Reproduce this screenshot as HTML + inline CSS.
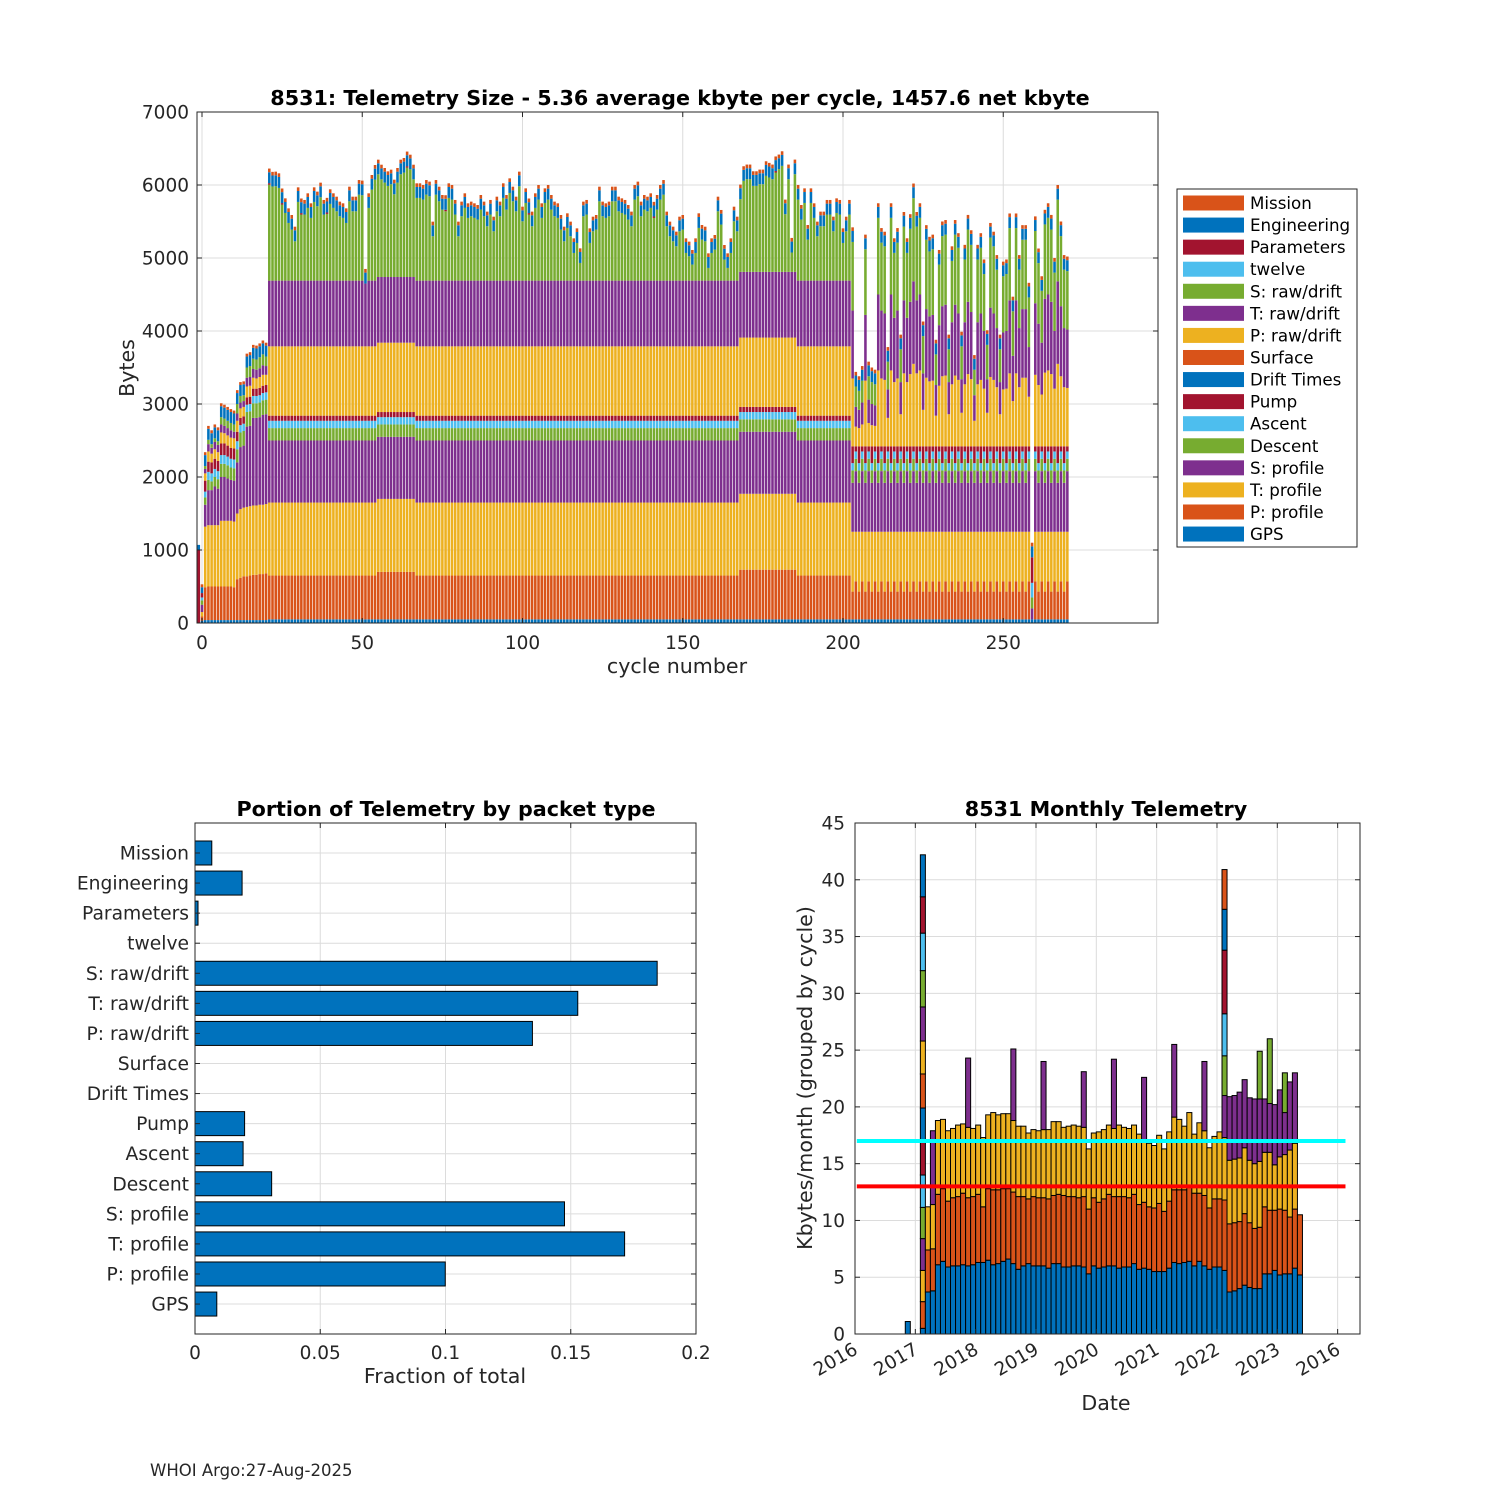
<!DOCTYPE html>
<html><head><meta charset="utf-8"><title>8531 Telemetry</title>
<style>
html,body{margin:0;padding:0;background:#fff;}
svg{display:block;font-family:"DejaVu Sans","Liberation Sans",sans-serif;}
</style></head>
<body>
<svg id="fig" xmlns="http://www.w3.org/2000/svg" width="1500" height="1500" viewBox="0 0 1500 1500">
<rect x="0" y="0" width="1500" height="1500" fill="#ffffff"/>
<g id="top-chart"></g>
<g id="bl-chart"></g>
<g id="br-chart"></g>
<text x="150" y="1476" font-size="16.5" fill="#262626">WHOI Argo:27-Aug-2025</text>
</svg>
<script>
// ===== Top chart data (cycles -1 .. 270) =====
const firstCycle = -1;
const gps = [0,30,40,40,40,40,40,40,40,40,40,40,40,40,40,40,40,40,40,40,40,40,
50,50,50,50,50,50,50,50,50,50,50,50,50,50,50,50,50,50,50,50,50,50,50,50,50,
50,50,50,50,50,50,50,50,50,50,50,50,50,50,50,50,50,50,50,50,50,50,50,50,50,
50,50,50,50,50,50,50,50,50,50,50,50,50,50,50,50,50,50,50,50,50,50,50,50,50,
50,50,50,50,50,50,50,50,50,50,50,50,50,50,50,50,50,50,50,50,50,50,50,50,50,
50,50,50,50,50,50,50,50,50,50,50,50,50,50,50,50,50,50,50,50,50,50,50,50,50,
50,50,50,50,50,50,50,50,50,50,50,50,50,50,50,50,50,50,50,50,50,50,50,50,50,
50,50,50,50,50,50,50,50,50,50,50,50,50,50,50,50,50,50,50,50,50,50,50,50,50,
50,50,50,50,50,50,50,50,50,50,50,50,50,50,50,50,50,50,50,50,50,50,50,50,50,
50,50,50,50,50,50,50,50,50,50,50,50,50,50,50,50,50,50,50,50,50,50,50,50,50,
50,50,50,50,50,50,50,50,50,50,50,50,50,50,50,50,50,50,50,50,50,50,50,50,50];
const pProf = [0,60,450,460,460,460,460,460,460,460,460,450,560,580,600,600,610,620,620,630,630,640,
600,600,600,600,600,600,600,600,600,600,600,600,600,600,600,600,600,600,600,600,600,600,600,600,600,600,600,600,600,600,600,600,600,600,
650,650,650,650,650,650,650,650,650,650,650,650,
600,600,600,600,600,600,600,600,600,600,600,600,600,600,600,600,600,600,600,600,600,600,600,600,600,
600,600,600,600,600,600,600,600,600,600,600,600,600,600,600,600,600,600,600,600,600,600,600,600,600,
600,600,600,600,600,600,600,600,600,600,600,600,600,600,600,600,600,600,600,600,600,600,600,600,600,
600,600,600,600,600,600,600,600,600,600,600,600,600,600,600,600,600,600,600,600,600,600,600,600,600,600,
680,680,680,680,680,680,680,680,680,680,680,680,680,680,680,680,680,680,
600,600,600,600,600,600,600,600,600,600,600,600,600,600,600,600,600,
380,520,380,520,380,520,380,520,380,520,380,520,380,520,380,520,380,520,380,520,
380,520,380,520,380,520,380,520,380,520,380,520,380,520,380,520,380,520,380,520,
380,520,380,520,380,520,380,520,380,520,380,520,380,520,380,520,0,520,380,520,
380,520,380,520,380,520,380,520];
const tProf = [0,60,830,840,840,840,840,900,900,900,900,900,900,940,940,950,950,950,950,950,950,950,
1000,1000,1000,1000,1000,1000,1000,1000,1000,1000,1000,1000,1000,1000,1000,1000,1000,1000,1000,1000,1000,1000,1000,1000,1000,
1000,1000,1000,1000,1000,1000,1000,1000,1000,1000,1000,1000,1000,1000,1000,1000,1000,1000,1000,1000,1000,1000,1000,1000,1000,
1000,1000,1000,1000,1000,1000,1000,1000,1000,1000,1000,1000,1000,1000,1000,1000,1000,1000,1000,1000,1000,1000,1000,1000,1000,
1000,1000,1000,1000,1000,1000,1000,1000,1000,1000,1000,1000,1000,1000,1000,1000,1000,1000,1000,1000,1000,1000,1000,1000,1000,
1000,1000,1000,1000,1000,1000,1000,1000,1000,1000,1000,1000,1000,1000,1000,1000,1000,1000,1000,1000,1000,1000,1000,1000,1000,
1000,1000,1000,1000,1000,1000,1000,1000,1000,1000,1000,1000,1000,1000,1000,1000,1000,1000,1000,1000,1000,1000,
1040,1040,1040,1040,1040,1040,1040,1040,1040,1040,1040,1040,1040,1040,1040,1040,1040,1040,
1000,1000,1000,1000,1000,1000,1000,1000,1000,1000,1000,1000,1000,1000,1000,1000,1000,
820,680,820,680,820,680,820,680,820,680,820,680,820,680,820,680,820,680,820,680,
820,680,820,680,820,680,820,680,820,680,820,680,820,680,820,680,820,680,820,680,
820,680,820,680,820,680,820,680,820,680,820,680,820,680,820,680,0,680,820,680,
820,680,820,680,820,680,820,680];
const sProf = [0,100,300,480,480,530,500,600,600,580,560,560,700,850,850,1100,1100,1200,1200,1200,1230,1230,
850,850,850,850,850,850,850,850,850,850,850,850,850,850,850,850,850,850,850,850,850,850,850,850,850,
850,850,850,850,850,850,850,850,850,850,850,850,850,850,850,850,850,850,850,850,850,850,850,850,850,
850,850,850,850,850,850,850,850,850,850,850,850,850,850,850,850,850,850,850,850,850,850,850,850,850,
850,850,850,850,850,850,850,850,850,850,850,850,850,850,850,850,850,850,850,850,850,850,850,850,850,
850,850,850,850,850,850,850,850,850,850,850,850,850,850,850,850,850,850,850,850,850,850,850,850,850,
850,850,850,850,850,850,850,850,850,850,850,850,850,850,850,850,850,850,850,850,850,850,850,850,850,
850,850,850,850,850,850,850,850,850,850,850,850,850,850,850,850,850,850,850,850,850,850,850,850,850,
850,850,850,850,850,850,850,
670,830,670,830,670,830,670,830,670,830,670,830,670,830,670,830,670,830,670,830,
670,830,670,830,670,830,670,830,670,830,670,830,670,830,670,830,670,830,670,830,
670,830,670,830,670,830,670,830,670,830,670,830,670,830,670,830,150,830,670,830,
670,830,670,830,670,830,670,830];
const descent = [0,60,100,140,120,130,130,180,180,180,170,170,180,200,200,200,200,200,200,200,200,200,
170,170,170,170,170,170,170,170,170,170,170,170,170,170,170,170,170,170,170,170,170,170,170,170,170,
170,170,170,170,170,170,170,170,170,170,170,170,170,170,170,170,170,170,170,170,170,170,170,170,170,
170,170,170,170,170,170,170,170,170,170,170,170,170,170,170,170,170,170,170,170,170,170,170,170,170,
170,170,170,170,170,170,170,170,170,170,170,170,170,170,170,170,170,170,170,170,170,170,170,170,170,
170,170,170,170,170,170,170,170,170,170,170,170,170,170,170,170,170,170,170,170,170,170,170,170,170,
170,170,170,170,170,170,170,170,170,170,170,170,170,170,170,170,170,170,170,170,170,170,170,170,170,
170,170,170,170,170,170,170,170,170,170,170,170,170,170,170,170,170,170,170,170,170,170,170,170,170,
170,170,170,170,170,170,170,
170,170,170,170,170,170,170,170,170,170,170,170,170,170,170,170,170,170,170,170,
170,170,170,170,170,170,170,170,170,170,170,170,170,170,170,170,170,170,170,170,
170,170,170,170,170,170,170,170,170,170,170,170,170,170,170,170,150,170,170,170,
170,170,170,170,170,170,170,170];
const ascent = [0,40,80,110,110,110,110,120,120,120,120,120,110,100,100,100,100,100,100,100,100,100,
100,100,100,100,100,100,100,100,100,100,100,100,100,100,100,100,100,100,100,100,100,100,100,100,100,
100,100,100,100,100,100,100,100,100,100,100,100,100,100,100,100,100,100,100,100,100,100,100,100,100,
100,100,100,100,100,100,100,100,100,100,100,100,100,100,100,100,100,100,100,100,100,100,100,100,100,
100,100,100,100,100,100,100,100,100,100,100,100,100,100,100,100,100,100,100,100,100,100,100,100,100,
100,100,100,100,100,100,100,100,100,100,100,100,100,100,100,100,100,100,100,100,100,100,100,100,100,
100,100,100,100,100,100,100,100,100,100,100,100,100,100,100,100,100,100,100,100,100,100,100,100,100,
100,100,100,100,100,100,100,100,100,100,100,100,100,100,100,100,100,100,100,100,100,100,100,100,100,
100,100,100,100,100,100,100,
100,100,100,100,100,100,100,100,100,100,100,100,100,100,100,100,100,100,100,100,
100,100,100,100,100,100,100,100,100,100,100,100,100,100,100,100,100,100,100,100,
100,100,100,100,100,100,100,100,100,100,100,100,100,100,100,100,200,100,100,100,
100,100,100,100,100,100,100,100];
const pump = [0,60,150,140,150,140,140,160,160,150,150,150,130,100,100,100,100,100,100,100,100,100,
70,70,70,70,70,70,70,70,70,70,70,70,70,70,70,70,70,70,70,70,70,70,70,70,70,
70,70,70,70,70,70,70,70,70,70,70,70,70,70,70,70,70,70,70,70,70,70,70,70,70,
70,70,70,70,70,70,70,70,70,70,70,70,70,70,70,70,70,70,70,70,70,70,70,70,70,
70,70,70,70,70,70,70,70,70,70,70,70,70,70,70,70,70,70,70,70,70,70,70,70,70,
70,70,70,70,70,70,70,70,70,70,70,70,70,70,70,70,70,70,70,70,70,70,70,70,70,
70,70,70,70,70,70,70,70,70,70,70,70,70,70,70,70,70,70,70,70,70,70,70,70,70,
70,70,70,70,70,70,70,70,70,70,70,70,70,70,70,70,70,70,70,70,70,70,70,70,70,
70,70,70,70,70,70,70,
230,70,230,70,230,70,230,70,230,70,230,70,230,70,230,70,230,70,230,70,
230,70,230,70,230,70,230,70,230,70,230,70,230,70,230,70,230,70,230,70,
230,70,230,70,230,70,230,70,230,70,230,70,230,70,230,70,350,70,230,70,
230,70,230,70,230,70,230,70];
const pRaw = [0,0,100,140,120,130,120,150,140,140,140,140,150,130,130,150,150,150,140,150,150,140,
950,950,950,950,950,950,950,950,950,950,950,950,950,950,950,950,950,950,950,950,950,950,950,950,950,
950,950,950,950,950,950,950,950,950,950,950,950,950,950,950,950,950,950,950,950,950,950,950,950,950,
950,950,950,950,950,950,950,950,950,950,950,950,950,950,950,950,950,950,950,950,950,950,950,950,950,
950,950,950,950,950,950,950,950,950,950,950,950,950,950,950,950,950,950,950,950,950,950,950,950,950,
950,950,950,950,950,950,950,950,950,950,950,950,950,950,950,950,950,950,950,950,950,950,950,950,950,
950,950,950,950,950,950,950,950,950,950,950,950,950,950,950,950,950,950,950,950,950,950,950,950,950,
950,950,950,950,950,950,950,950,950,950,950,950,950,950,950,950,950,950,950,950,950,950,950,950,950,
950,950,950,950,950,950,950,
930,270,250,300,900,320,290,280,1040,930,910,390,1040,880,930,440,1000,880,990,1130,
1000,1040,500,940,890,900,420,830,960,970,440,850,970,910,460,850,990,920,350,850,
910,790,460,950,910,810,440,780,790,1000,620,1000,810,940,940,680,0,980,840,710,
1010,1040,990,790,1130,960,810,800];
const tRaw = [0,0,60,100,80,100,100,110,100,100,100,90,100,80,80,120,120,120,120,120,130,120,
900,900,900,900,900,900,900,900,900,900,900,900,900,900,900,900,900,900,900,900,900,900,900,900,900,
900,900,900,900,900,860,900,900,900,900,900,900,900,900,900,900,900,900,900,900,900,900,900,900,900,
900,900,900,900,900,900,900,900,900,900,900,900,900,900,900,900,900,900,900,900,900,900,900,900,900,
900,900,900,900,900,900,900,900,900,900,900,900,900,900,900,900,900,900,900,900,900,900,900,900,900,
900,900,900,900,900,900,900,900,900,900,900,900,900,900,900,900,900,900,900,900,900,900,900,900,900,
900,900,900,900,900,900,900,900,900,900,900,900,900,900,900,900,900,900,900,900,900,900,900,900,900,
900,900,900,900,900,900,900,900,900,900,900,900,900,900,900,900,900,900,900,900,900,900,900,900,900,
900,900,900,900,900,900,900,
930,270,250,300,900,320,290,280,1040,930,910,390,1040,880,930,440,1000,880,990,1130,
1000,1040,500,940,890,900,420,830,960,970,440,850,970,910,460,850,990,920,350,850,
910,790,460,950,910,810,440,780,790,1000,620,1000,810,940,940,680,0,980,840,710,
1010,1040,990,790,1130,960,810,800];
const sRaw = [0,0,40,60,50,50,50,100,100,100,100,100,130,90,80,140,150,140,140,150,150,130,
1315,1290,1293,1270,1042,927,790,699,539,1078,
905,905,996,859,1078,1019,1142,905,914,1051,
996,950,882,859,790,1087,950,950,1178,1170,
0,996,1247,1384,1407,1338,1293,1247,1270,1133,
1293,1407,1430,1498,1475,1338,1133,1133,1110,1178,
1156,608,1178,1087,973,950,1133,1110,905,608,
882,996,859,882,859,836,973,882,745,905,
676,950,882,1133,973,1201,1087,950,1293,813,
1064,905,745,996,1110,859,1064,1110,973,882,
859,699,539,722,608,379,516,242,882,905,
516,676,699,1087,882,859,882,1087,1087,950,
927,905,836,745,1110,1156,882,973,950,996,
859,973,1110,1178,745,608,539,471,676,699,
379,334,220,379,722,562,539,174,379,425,
950,768,288,174,379,813,676,996,1247,1270,
1270,1178,1178,1201,1201,1315,1293,1270,1361,1407,
1452,790,1270,265,1338,1110,836,1064,562,1064,
859,608,745,745,905,905,676,927,905,516,
676,905,
940,280,260,300,900,320,300,290,1050,930,920,380,1050,890,930,450,1010,890,1000,1140,
1010,1050,510,950,890,900,420,830,960,960,450,840,960,900,450,860,990,920,350,860,
900,780,470,960,920,800,450,770,780,990,610,990,800,950,950,680,0,990,830,710,
1020,1050,990,800,1120,960,800,800];
const params = [1000,0,0,0,0,0,0,0,0,0,0,0,0,0,0,0,0,0,0,0,0,0,
20,0,0,0,20,0,0,0,0,0,20,0,0,0,0,0,0,0,20,0,0,0,0,0,0,0,0,0,0,0,0,0,0,0,0,
0,0,0,0,0,0,0,0,20,0,0,0,0,0,0,0,0,0,0,0,20,0,0,0,0,0,0,0,0,0,0,0,0,0,0,
0,0,0,0,0,0,0,0,0,0,0,20,0,0,0,0,0,0,0,0,0,0,0,0,0,0,0,0,0,0,0,0,0,0,0,
0,0,0,0,0,0,0,0,0,0,0,0,0,0,0,20,0,0,0,0,0,0,0,0,0,0,0,0,0,0,0,0,0,0,0,
0,0,0,0,0,0,0,0,0,0,0,0,0,0,0,0,0,0,20,0,0,0,0,0,0,0,0,0,0,0,0,0,0,0,0,
0,0,0,0,0,0,0,0,0,0,0,0,0,0,0,0,0,0,0,0,0,0,0,0,0,
0,0,0,0,0,0,0,0,0,0,0,0,0,0,0,0,0,0,0,0,0,0,0,0,0,
0,0,0,0,0,0,0,0,0,0,0,0,0,0,0,0,0,0,0,0,0,0,0,0,0,
0,0,0,0,0,0,0,0,0,0,0,0,0,0,0,0,0,0,0,0,0,0,0,0,0,
0,0,0,0,0,0,0,0,0,0,0,0,0,0,0,0,0,0,0,0,0,0,0,0,0];
const engineering = [70,80,150,150,150,150,150,150,150,150,150,150,150,150,150,150,150,150,150,150,150,150,
150,150,150,150,150,150,150,150,150,150,150,150,150,150,150,150,150,150,150,150,150,150,150,150,150,
150,150,150,150,150,150,150,150,150,150,150,150,150,150,150,150,150,150,150,150,150,150,150,150,150,
150,150,150,150,150,150,150,150,150,150,150,150,150,150,150,150,150,150,150,150,150,150,150,150,150,
150,150,150,150,150,150,150,150,150,150,150,150,150,150,150,150,150,150,150,150,150,150,150,150,150,
150,150,150,150,150,150,150,150,150,150,150,150,150,150,150,150,150,150,150,150,150,150,150,150,150,
150,150,150,150,150,150,150,150,150,150,150,150,150,150,150,150,150,150,150,150,150,150,150,150,150,
150,150,150,150,150,150,150,150,150,150,150,150,150,150,150,150,150,150,150,150,150,150,150,150,150,
150,150,150,150,150,150,150,150,150,150,150,150,150,150,150,150,150,150,150,150,150,150,150,150,150,
150,150,150,150,150,150,150,150,150,150,150,150,150,150,150,150,150,150,150,150,150,150,150,150,150,
150,150,150,150,150,150,150,150,150,150,150,150,150,150,150,150,150,150,150,150,150,150,150,150,150];
const mission = [0,40,40,40,40,40,40,40,40,40,40,40,40,40,40,40,40,40,40,40,40,40,
50,50,50,50,50,50,50,50,50,50,50,50,50,50,50,50,50,50,50,50,50,50,50,50,50,
50,50,50,50,50,50,50,50,50,50,50,50,50,50,50,50,50,50,50,50,50,50,50,50,50,
50,50,50,50,50,50,50,50,50,50,50,50,50,50,50,50,50,50,50,50,50,50,50,50,50,
50,50,50,50,50,50,50,50,50,50,50,50,50,50,50,50,50,50,50,50,50,50,50,50,50,
50,50,50,50,50,50,50,50,50,50,50,50,50,50,50,50,50,50,50,50,50,50,50,50,50,
50,50,50,50,50,50,50,50,50,50,50,50,50,50,50,50,50,50,50,50,50,50,50,50,50,
50,50,50,50,50,50,50,50,50,50,50,50,50,50,50,50,50,50,50,50,50,50,50,50,50,
50,50,50,50,50,50,50,50,50,50,50,50,50,50,50,50,50,50,50,50,50,50,50,50,50,
50,50,50,50,50,50,50,50,50,50,50,50,50,50,50,50,50,50,50,50,50,50,50,50,50,
50,50,50,50,50,50,50,50,50,50,50,50,50,50,50,50,50,50,50,50,50,50,50,50,50];
const topYTicks = [0,1000,2000,3000,4000,5000,6000,7000];
const topXTicks = [0,50,100,150,200,250];
const legendNames = ["Mission","Engineering","Parameters","twelve","S: raw/drift","T: raw/drift","P: raw/drift","Surface","Drift Times","Pump","Ascent","Descent","S: profile","T: profile","P: profile","GPS"];

// ===== Bottom-left data =====
const packetNames = ["Mission","Engineering","Parameters","twelve","S: raw/drift","T: raw/drift","P: raw/drift","Surface","Drift Times","Pump","Ascent","Descent","S: profile","T: profile","P: profile","GPS"];
const packetFractions = [0.0067,0.0188,0.0012,0,0.1845,0.1528,0.1347,0,0,0.0198,0.0192,0.0306,0.1475,0.1715,0.0999,0.0087];
const fracTicks = [0,0.05,0.1,0.15,0.2];
const fracTickLabels = ["0","0.05","0.1","0.15","0.2"];

// ===== Bottom-right data (month index from Jan 2016) =====
const monthIndex = [10,13,14,15,16,17,18,19,20,21,22,23,24,25,26,27,28,29,30,31,32,33,34,35,36,37,38,39,40,41,42,43,44,45,46,47,48,49,50,51,52,53,54,55,56,57,58,59,60,61,62,63,64,65,66,67,68,69,70,71,72,73,74,75,76,77,78,79,80,81,82,83,84,85,86,87,88];
const monthSegs = [[1.1],
[0.5,2.35,2.75,2.8,2.75,2.85,2.9,3.0,3.0,2.9,3.0,3.2,3.3,3.2,3.7],
[3.7,3.7,3.8],[3.8,3.7,3.9,6.5],[6.1,6.2,6.5],[6.4,6.4,6.1],[5.9,5.8,6.2],[6.0,6.0,6.1],[6.0,6.1,6.3],[6.1,6.3,6.1],
[6.0,6.0,6.2,6.1],[6.1,6.0,6.0],[6.3,6.0,6.1],[6.3,4.9,6.1],[6.5,6.3,6.5],[6.1,6.6,6.8],[6.2,6.5,6.6],[6.4,6.4,6.6],
[6.6,6.2,6.6],[6.2,6.3,6.3,6.3],[5.7,6.4,6.2],[6.0,6.1,6.2],[6.2,5.7,5.8],[6.0,6.1,5.9],[6.0,6.0,5.9],[6.0,6.0,6.0,6.0],
[5.8,6.1,6.1],[6.2,6.0,6.5],[6.2,6.1,6.4],[5.9,6.3,6.0],[5.9,6.2,6.2],[6.0,6.1,6.3],[6.0,6.0,6.3],[5.9,6.2,6.1,4.9],
[5.3,5.7,5.3],[6.0,6.0,5.7],[5.8,5.8,6.2],[5.9,6.0,6.1],[6.0,6.3,6.1],[6.0,6.1,6.0,6.1],[5.8,6.3,6.3],[5.9,6.2,6.1],
[5.9,6.1,6.1],[6.2,6.1,6.1],[5.7,5.7,6.2],[5.8,5.8,5.5,5.5],[5.7,5.5,5.6],[5.5,5.6,5.5],[5.5,6.0,6.0],[5.5,5.3,5.5],
[5.8,5.9,6.1],[6.3,6.4,6.4,6.4],[6.2,6.5,6.2],[6.3,6.4,5.6],[6.4,6.5,6.6],[6.0,6.4,5.2],[6.4,6.0,6.2],[6.0,6.2,5.7,6.1],
[5.7,5.4,5.3],[5.9,6.0,5.5],[5.9,6.0,5.9],
[5.6,6.2,5.5,3.7,3.5,3.7,5.6,3.6,3.5],
[3.7,6.0,5.6,5.6],[3.8,6.0,5.6,5.6],[4.0,5.9,5.6,5.8],[4.3,6.3,5.8,6.0],[4.1,5.7,5.5,5.5],[4.0,5.3,5.7,5.7],
[4.0,5.4,5.8,5.5,4.2],[5.3,5.9,4.8,4.7],[5.3,5.6,5.1,4.3,5.7],[5.6,5.3,4.0,5.3],[5.2,5.8,4.6,5.9],
[5.3,5.6,4.9,3.7,3.5],[5.3,5.0,5.9,6.0],[5.8,5.2,5.8,6.2],[5.2,5.3]];
const meanLineCyan = 17.0;
const meanLineRed = 13.0;
const monthYTicks = [0,5,10,15,20,25,30,35,40,45];
const yearTicks = [2016,2017,2018,2019,2020,2021,2022,2023,2024];
const yearTickLabels = ["2016","2017","2018","2019","2020","2021","2022","2023","2016"];

// ===== Drawing =====
const NS = "http://www.w3.org/2000/svg";
const C = {blue:"#0072BD",orange:"#D95319",yellow:"#EDB120",purple:"#7E2F8E",green:"#77AC30",cyan:"#4DBEEE",red:"#A2142F"};
const cyc = [C.blue,C.orange,C.yellow,C.purple,C.green,C.cyan,C.red];
const AX = "#262626", GRID = "#dcdcdc";
const TICK = 18.5, LAB = 20.6, TITLE = 20.7;
function mk(tag, attrs, parent){
  const e = document.createElementNS(NS, tag);
  for (const k in attrs) e.setAttribute(k, attrs[k]);
  parent.appendChild(e);
  return e;
}
function txt(parent, x, y, s, size, anchor, extra){
  const t = mk("text", Object.assign({x:x, y:y, "font-size":size, "text-anchor":anchor||"middle", fill:AX}, extra||{}), parent);
  t.textContent = s;
  return t;
}

// ---- Top chart ----
(function(){
  const g = document.getElementById("top-chart");
  const L=197, R=1158, T=112, B=623;
  const xS = c => 202 + c*3.2050;
  const yS = v => B - v*(B-T)/7000;
  topYTicks.forEach(v=>{ if(v>0&&v<7000){ const l=mk("line",{x1:L,x2:R,y1:yS(v),y2:yS(v),stroke:GRID,"stroke-width":1},g);
    
     }});
  topXTicks.forEach(v=>{ const l=mk("line",{x1:xS(v),x2:xS(v),y1:T,y2:B,stroke:GRID,"stroke-width":1},g);
    
     });
  const series = [
    {n:"GPS",d:gps,c:C.blue},{n:"P: profile",d:pProf,c:C.orange},{n:"T: profile",d:tProf,c:C.yellow},
    {n:"S: profile",d:sProf,c:C.purple},{n:"Descent",d:descent,c:C.green},{n:"Ascent",d:ascent,c:C.cyan},
    {n:"Pump",d:pump,c:C.red},{n:"P: raw/drift",d:pRaw,c:C.yellow},{n:"T: raw/drift",d:tRaw,c:C.purple},
    {n:"S: raw/drift",d:sRaw,c:C.green},{n:"Parameters",d:params,c:C.red},{n:"Engineering",d:engineering,c:C.blue},
    {n:"Mission",d:mission,c:C.orange}];
  const bars = mk("g",{},g);
  
  
  const bw = 0.8*3.205;
  for (let i=0;i<gps.length;i++){
    const c = firstCycle + i;
    let acc = 0;
    series.forEach(s=>{
      const v = s.d[i]||0;
      if (v<=0) return;
      const y1 = yS(acc+v), y0 = yS(acc);
      const r = mk("rect",{x:(xS(c)-bw/2).toFixed(2),y:y1.toFixed(2),width:bw.toFixed(2),height:(y0-y1).toFixed(2),fill:s.c},bars);
      
      
      acc += v;
    });
  }
  const box = mk("rect",{x:L,y:T,width:R-L,height:B-T,fill:"none",stroke:AX,"stroke-width":1},g);
  
  
  topYTicks.forEach(v=>{
    mk("line",{x1:L,x2:L+5,y1:yS(v),y2:yS(v),stroke:AX},g);
    mk("line",{x1:R,x2:R-5,y1:yS(v),y2:yS(v),stroke:AX},g);
    const t = txt(g, 189, yS(v)+6.5, String(v), TICK, "end");
    
    
  });
  topXTicks.forEach(v=>{
    mk("line",{x1:xS(v),x2:xS(v),y1:B,y2:B-5,stroke:AX},g);
    mk("line",{x1:xS(v),x2:xS(v),y1:T,y2:T+5,stroke:AX},g);
    const t = txt(g, xS(v), 649, String(v), TICK, "middle");
    
    
  });
  let t = txt(g, 680, 105, "8531: Telemetry Size - 5.36 average kbyte per cycle, 1457.6 net kbyte", TITLE, "middle", {"font-weight":"bold", fill:"#000"});
  
  
  t = txt(g, 677, 673, "cycle number", LAB, "middle");
  
  
  t = txt(g, 134, 368, "Bytes", LAB, "middle", {transform:"rotate(-90 134 368)"});
  
  
  const lg = mk("g",{},g);
  
  
  mk("rect",{x:1177,y:189,width:180,height:358,fill:"#fff",stroke:AX,"stroke-width":1},lg);
  const legendColors = [C.orange,C.blue,C.red,C.cyan,C.green,C.purple,C.yellow,C.orange,C.blue,C.red,C.cyan,C.green,C.purple,C.yellow,C.orange,C.blue];
  legendNames.forEach((n,k)=>{
    const yc = 203 + k*22.07;
    const e = mk("g",{},lg);
    
    
    mk("rect",{x:1183,y:yc-7.5,width:61,height:15,fill:legendColors[k]},e);
    txt(e, 1250, yc+6, n, 16.7, "start", {fill:"#000"});
  });
})();

// ---- Bottom-left chart ----
(function(){
  const g = document.getElementById("bl-chart");
  const L=195, R=696, T=823, B=1334;
  const xS = v => L + v*(R-L)/0.2;
  const yC = i => 853 + i*30.07;
  fracTicks.forEach(v=>{ if(v>0&&v<0.2){ const l=mk("line",{x1:xS(v),x2:xS(v),y1:T,y2:B,stroke:GRID},g);
    
     }});
  packetNames.forEach((n,i)=>{ const l=mk("line",{x1:L,x2:R,y1:yC(i),y2:yC(i),stroke:GRID},g);
    
     });
  packetFractions.forEach((v,i)=>{
    if (v<=0) return;
    const r = mk("rect",{x:xS(0),y:yC(i)-12,width:xS(v)-xS(0),height:24,fill:C.blue,stroke:"#000","stroke-width":1},g);
    
    
  });
  const box = mk("rect",{x:L,y:T,width:R-L,height:B-T,fill:"none",stroke:AX},g);
  
  
  packetNames.forEach((n,i)=>{
    mk("line",{x1:L,x2:L+5,y1:yC(i),y2:yC(i),stroke:AX},g);
    mk("line",{x1:R,x2:R-5,y1:yC(i),y2:yC(i),stroke:AX},g);
    const t = txt(g, 189, yC(i)+6.5, n, 18.7, "end");
    
    
  });
  fracTicks.forEach((v,k)=>{
    mk("line",{x1:xS(v),x2:xS(v),y1:B,y2:B-5,stroke:AX},g);
    mk("line",{x1:xS(v),x2:xS(v),y1:T,y2:T+5,stroke:AX},g);
    const t = txt(g, xS(v), 1359, fracTickLabels[k], TICK, "middle");
    
    
  });
  let t = txt(g, 446, 816, "Portion of Telemetry by packet type", TITLE, "middle", {"font-weight":"bold", fill:"#000"});
  
  
  t = txt(g, 445, 1383, "Fraction of total", LAB, "middle");
  
  
})();

// ---- Bottom-right chart ----
(function(){
  const g = document.getElementById("br-chart");
  const L=855, R=1360, T=823, B=1334;
  const xS = t => L + (t-2016)*60.33;
  const yS = v => B - v*(B-T)/45;
  monthYTicks.forEach(v=>{ if(v>0&&v<45){ const l=mk("line",{x1:L,x2:R,y1:yS(v),y2:yS(v),stroke:GRID},g);
    
     }});
  yearTicks.forEach(v=>{ if(v>2016){ const l=mk("line",{x1:xS(v),x2:xS(v),y1:T,y2:B,stroke:GRID},g);
    
     }});
  const bw = 60.33/12;
  monthSegs.forEach((segs,k)=>{
    const tc = 2016 + (monthIndex[k]+0.5)/12;
    let acc = 0;
    segs.forEach((v,j)=>{
      const y1 = yS(acc+v), y0 = yS(acc);
      const r = mk("rect",{x:(xS(tc)-bw/2).toFixed(2),y:y1.toFixed(2),width:bw.toFixed(2),height:(y0-y1).toFixed(2),fill:cyc[j%7],stroke:"#000","stroke-width":1},g);
      
      
      acc += v;
    });
  });
  let l = mk("line",{x1:xS(2016.03),x2:xS(2024.13),y1:yS(meanLineCyan),y2:yS(meanLineCyan),stroke:"#00FFFF","stroke-width":4},g);
  
  
  l = mk("line",{x1:xS(2016.03),x2:xS(2024.13),y1:yS(meanLineRed),y2:yS(meanLineRed),stroke:"#FF0000","stroke-width":4},g);
  
  
  const box = mk("rect",{x:L,y:T,width:R-L,height:B-T,fill:"none",stroke:AX},g);
  
  
  monthYTicks.forEach(v=>{
    mk("line",{x1:L,x2:L+5,y1:yS(v),y2:yS(v),stroke:AX},g);
    mk("line",{x1:R,x2:R-5,y1:yS(v),y2:yS(v),stroke:AX},g);
    const t = txt(g, 845, yS(v)+6.5, String(v), TICK, "end");
    
    
  });
  yearTicks.forEach((v,k)=>{
    const x = xS(v);
    mk("line",{x1:x,x2:x,y1:B,y2:B-5,stroke:AX},g);
    mk("line",{x1:x,x2:x,y1:T,y2:T+5,stroke:AX},g);
    const t = txt(g, x+4, 1353, yearTickLabels[k], TICK, "end", {transform:"rotate(-30 "+(x+4)+" 1353)"});
    
    
  });
  let t = txt(g, 1106, 816, "8531 Monthly Telemetry", TITLE, "middle", {"font-weight":"bold", fill:"#000"});
  
  
  t = txt(g, 1106, 1410, "Date", LAB, "middle");
  
  
  t = txt(g, 812, 1078, "Kbytes/month (grouped by cycle)", LAB, "middle", {transform:"rotate(-90 812 1078)"});
  
  
})();
</script>
</body></html>
